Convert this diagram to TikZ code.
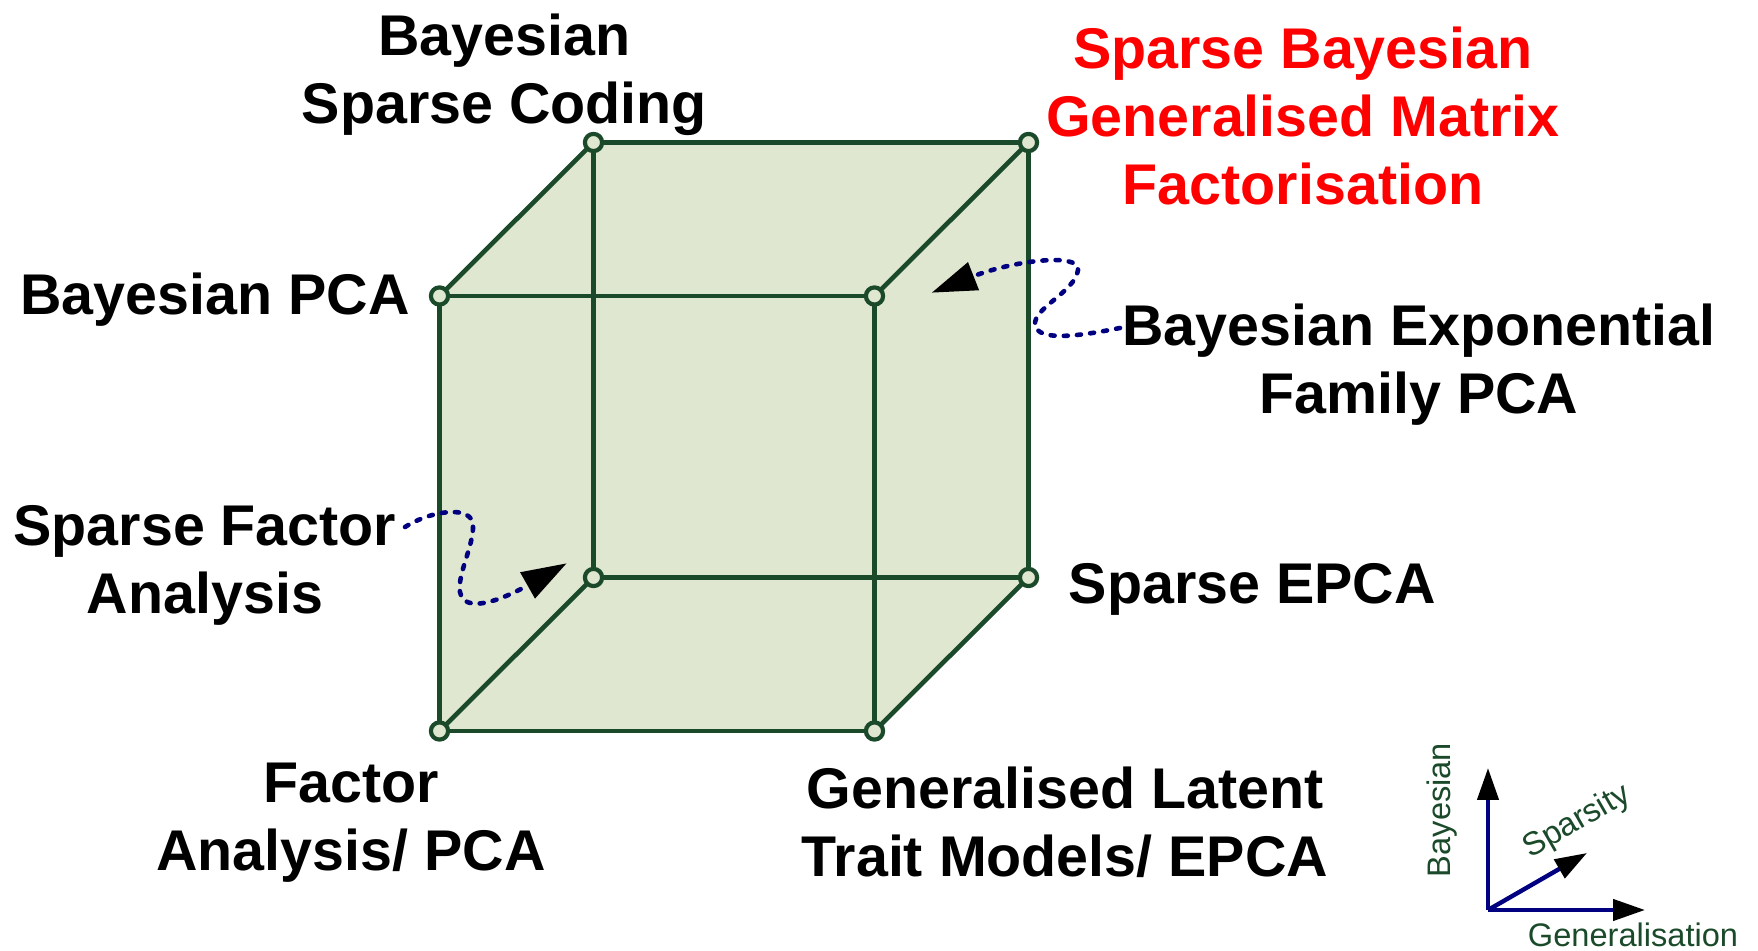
\documentclass[tikz,border=0pt]{standalone}
\usepackage{fontspec}
\setmainfont{Liberation Sans}
\usetikzlibrary{arrows.meta}
\definecolor{edgecol}{RGB}{26,74,42}
\definecolor{facecol}{RGB}{224,231,208}
\definecolor{pathcol}{RGB}{0,0,128}
\definecolor{labred}{RGB}{255,0,0}

\begin{document}
\begin{tikzpicture}[x=0.5pt,y=-0.5pt,
  edge/.style={draw=edgecol, line width=2.3pt},
  vert/.style={circle, draw=edgecol, fill=facecol, line width=2.1pt, minimum size=8.6pt, inner sep=0pt},
  lab/.style={font=\fontsize{28.7}{34.2}\selectfont\bfseries, align=center, inner sep=0pt},
  axis/.style={draw=pathcol, line width=2.2pt, -{Triangle[length=16pt,width=10.5pt,color=black]}},
  axlab/.style={font=\fontsize{16.3}{19}\selectfont, text=edgecol, inner sep=0pt},
  pointer/.style={draw=pathcol, line width=2.3pt, line cap=round, dash pattern=on 2pt off 4.6pt,
    -{Triangle[length=22.5pt,width=14.5pt,color=black]}}]
\useasboundingbox (0,0) rectangle (1758,951);

% cube corners: front face and back face
\coordinate (ftl) at (439.5,296);
\coordinate (ftr) at (874.5,296);
\coordinate (fbl) at (439.5,731);
\coordinate (fbr) at (874.5,731);
\coordinate (btl) at (593.5,142.5);
\coordinate (btr) at (1028.5,142.5);
\coordinate (bbl) at (593.5,577.5);
\coordinate (bbr) at (1028.5,577.5);

% shaded silhouette of the cube
\fill[facecol] (ftl) -- (btl) -- (btr) -- (bbr) -- (fbr) -- (fbl) -- cycle;

% edges
\draw[edge] (ftl) -- (ftr) -- (fbr) -- (fbl) -- cycle;
\draw[edge] (btl) -- (btr) -- (bbr) -- (bbl) -- cycle;
\draw[edge] (ftl) -- (btl);
\draw[edge] (ftr) -- (btr);
\draw[edge] (fbl) -- (bbl);
\draw[edge] (fbr) -- (bbr);

% vertex markers
\node[vert] (vftl) at (ftl) {};
\node[vert] (vftr) at (ftr) {};
\node[vert] (vfbl) at (fbl) {};
\node[vert] (vfbr) at (fbr) {};
\node[vert] (vbtl) at (btl) {};
\node[vert] (vbtr) at (btr) {};
\node[vert] (vbbl) at (bbl) {};
\node[vert] (vbbr) at (bbr) {};

% model names
\node[lab] (bsc) at (504.5,75) {Bayesian\\Sparse Coding};
\node[lab, text=labred] (sbgmf) at (1303,116) {Sparse Bayesian\\Generalised Matrix\\Factorisation};
\node[lab, anchor=west] (bpca) at (20,299.5) {Bayesian PCA};
\node[lab] (befpca) at (1419,364.5) {Bayesian Exponential\\Family PCA};
\node[lab] (sfa) at (205,565.5) {Sparse Factor\\Analysis};
\node[lab, anchor=west] (sepca) at (1068.5,589.5) {Sparse EPCA};
\node[lab] (fa) at (351,823) {Factor\\Analysis/ PCA};
\node[lab] (gltm) at (1065,822.5) {Generalised Latent\\Trait Models/ EPCA};

% dotted pointers to the hidden corners
\coordinate (sfafrom) at (405,527);
\coordinate (sfato) at (566.7,563.3);
\draw[pointer] (sfafrom) .. controls (432,510) and (472,505) .. (473,525)
  .. controls (474,545) and (457,575) .. (460,592)
  .. controls (464,614) and (500,601) .. (sfato);

\coordinate (beffrom) at (1120,328);
\coordinate (befto) at (931.7,292.7);
\draw[pointer] (beffrom) .. controls (1080,336) and (1038,342) .. (1035,325)
  .. controls (1033,308) and (1075,292) .. (1078,270)
  .. controls (1080,252) and (1012,261) .. (befto);

% axes key
\coordinate (ax0) at (1488,910);
\coordinate (axb) at (1488,768);
\coordinate (axg) at (1645,910);
\coordinate (axs) at (1587,853);
\draw[axis] (ax0) -- (axb);
\draw[axis] (ax0) -- (axg);
\draw[axis] (ax0) -- (axs);
\node[axlab, rotate=90] (lb) at (1441.7,810) {Bayesian};
\node[axlab, rotate=30] (ls) at (1577,822) {Sparsity};
\node[axlab] (lg) at (1633,935) {Generalisation};
\end{tikzpicture}
\end{document}
